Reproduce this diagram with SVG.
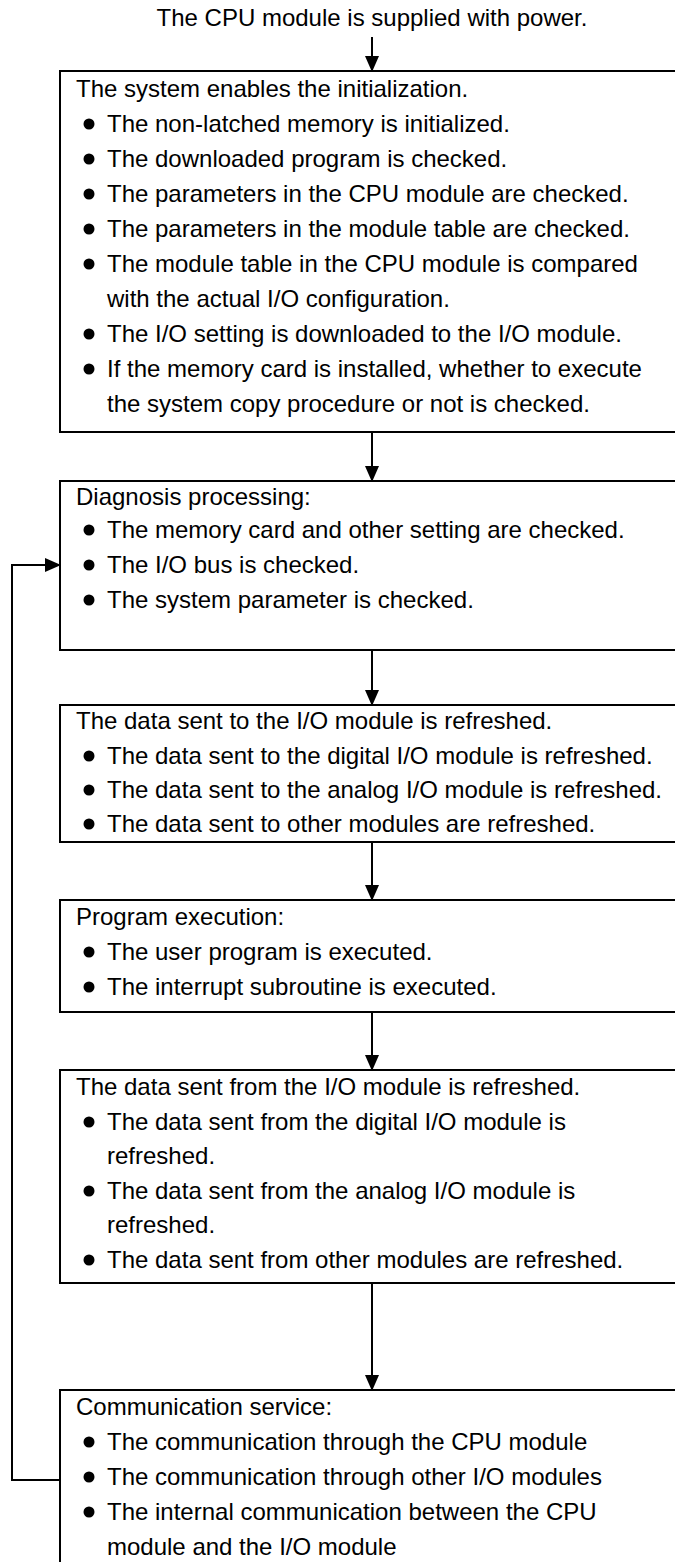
<svg xmlns="http://www.w3.org/2000/svg" width="675" height="1562" viewBox="0 0 675 1562">
<style>
.box{fill:none;stroke:#000;stroke-width:2}
.t{font-family:"Liberation Sans",Arial,sans-serif;font-size:24px;fill:#000}
.b{fill:#000}
.c{fill:none;stroke:#000;stroke-width:2}
</style>
<defs>
<marker id="ah" markerWidth="16" markerHeight="14" refX="15" refY="7" orient="auto" markerUnits="userSpaceOnUse">
<path d="M0,0 L16,7 L0,14 Z" fill="#000"/>
</marker>
</defs>
<rect width="675" height="1562" fill="#fff"/>
<text class="t" x="372" y="26" text-anchor="middle">The CPU module is supplied with power.</text>
<g id="connectors">
<line class="c" x1="372" y1="37" x2="372" y2="71" marker-end="url(#ah)"/>
<line class="c" x1="372" y1="432" x2="372" y2="481" marker-end="url(#ah)"/>
<line class="c" x1="372" y1="650" x2="372" y2="705" marker-end="url(#ah)"/>
<line class="c" x1="372" y1="842" x2="372" y2="900" marker-end="url(#ah)"/>
<line class="c" x1="372" y1="1012" x2="372" y2="1070" marker-end="url(#ah)"/>
<line class="c" x1="372" y1="1283" x2="372" y2="1390" marker-end="url(#ah)"/>
<polyline class="c" points="60,1480 12,1480 12,565 60,565" marker-end="url(#ah)"/>
</g>
<g id="n1">
<rect class="box" x="60" y="71" width="640" height="361"/>
<text class="t" x="76" y="97">The system enables the initialization.</text>
<circle class="b" cx="89" cy="124" r="5.5"/><text class="t" x="107" y="132">The non-latched memory is initialized.</text>
<circle class="b" cx="89" cy="159" r="5.5"/><text class="t" x="107" y="167">The downloaded program is checked.</text>
<circle class="b" cx="89" cy="194" r="5.5"/><text class="t" x="107" y="202">The parameters in the CPU module are checked.</text>
<circle class="b" cx="89" cy="229" r="5.5"/><text class="t" x="107" y="237">The parameters in the module table are checked.</text>
<circle class="b" cx="89" cy="264" r="5.5"/><text class="t" x="107" y="272">The module table in the CPU module is compared</text>
<text class="t" x="107" y="307">with the actual I/O configuration.</text>
<circle class="b" cx="89" cy="334" r="5.5"/><text class="t" x="107" y="342">The I/O setting is downloaded to the I/O module.</text>
<circle class="b" cx="89" cy="369" r="5.5"/><text class="t" x="107" y="377">If the memory card is installed, whether to execute</text>
<text class="t" x="107" y="412">the system copy procedure or not is checked.</text>
</g>
<g id="n2">
<rect class="box" x="60" y="481" width="640" height="169"/>
<text class="t" x="76" y="505">Diagnosis processing:</text>
<circle class="b" cx="89" cy="530" r="5.5"/><text class="t" x="107" y="538">The memory card and other setting are checked.</text>
<circle class="b" cx="89" cy="565" r="5.5"/><text class="t" x="107" y="573">The I/O bus is checked.</text>
<circle class="b" cx="89" cy="600" r="5.5"/><text class="t" x="107" y="608">The system parameter is checked.</text>
</g>
<g id="n3">
<rect class="box" x="60" y="705" width="640" height="137"/>
<text class="t" x="76" y="729">The data sent to the I/O module is refreshed.</text>
<circle class="b" cx="89" cy="756" r="5.5"/><text class="t" x="107" y="764">The data sent to the digital I/O module is refreshed.</text>
<circle class="b" cx="89" cy="790" r="5.5"/><text class="t" x="107" y="798">The data sent to the analog I/O module is refreshed.</text>
<circle class="b" cx="89" cy="824" r="5.5"/><text class="t" x="107" y="832">The data sent to other modules are refreshed.</text>
</g>
<g id="n4">
<rect class="box" x="60" y="900" width="640" height="112"/>
<text class="t" x="76" y="925">Program execution:</text>
<circle class="b" cx="89" cy="952" r="5.5"/><text class="t" x="107" y="960">The user program is executed.</text>
<circle class="b" cx="89" cy="987" r="5.5"/><text class="t" x="107" y="995">The interrupt subroutine is executed.</text>
</g>
<g id="n5">
<rect class="box" x="60" y="1070" width="640" height="213"/>
<text class="t" x="76" y="1095">The data sent from the I/O module is refreshed.</text>
<circle class="b" cx="89" cy="1122" r="5.5"/><text class="t" x="107" y="1130">The data sent from the digital I/O module is</text>
<text class="t" x="107" y="1164">refreshed.</text>
<circle class="b" cx="89" cy="1191" r="5.5"/><text class="t" x="107" y="1199">The data sent from the analog I/O module is</text>
<text class="t" x="107" y="1233">refreshed.</text>
<circle class="b" cx="89" cy="1260" r="5.5"/><text class="t" x="107" y="1268">The data sent from other modules are refreshed.</text>
</g>
<g id="n6">
<rect class="box" x="60" y="1390" width="640" height="200"/>
<text class="t" x="76" y="1415">Communication service:</text>
<circle class="b" cx="89" cy="1442" r="5.5"/><text class="t" x="107" y="1450">The communication through the CPU module</text>
<circle class="b" cx="89" cy="1477" r="5.5"/><text class="t" x="107" y="1485">The communication through other I/O modules</text>
<circle class="b" cx="89" cy="1512" r="5.5"/><text class="t" x="107" y="1520">The internal communication between the CPU</text>
<text class="t" x="107" y="1555">module and the I/O module</text>
</g>
</svg>
